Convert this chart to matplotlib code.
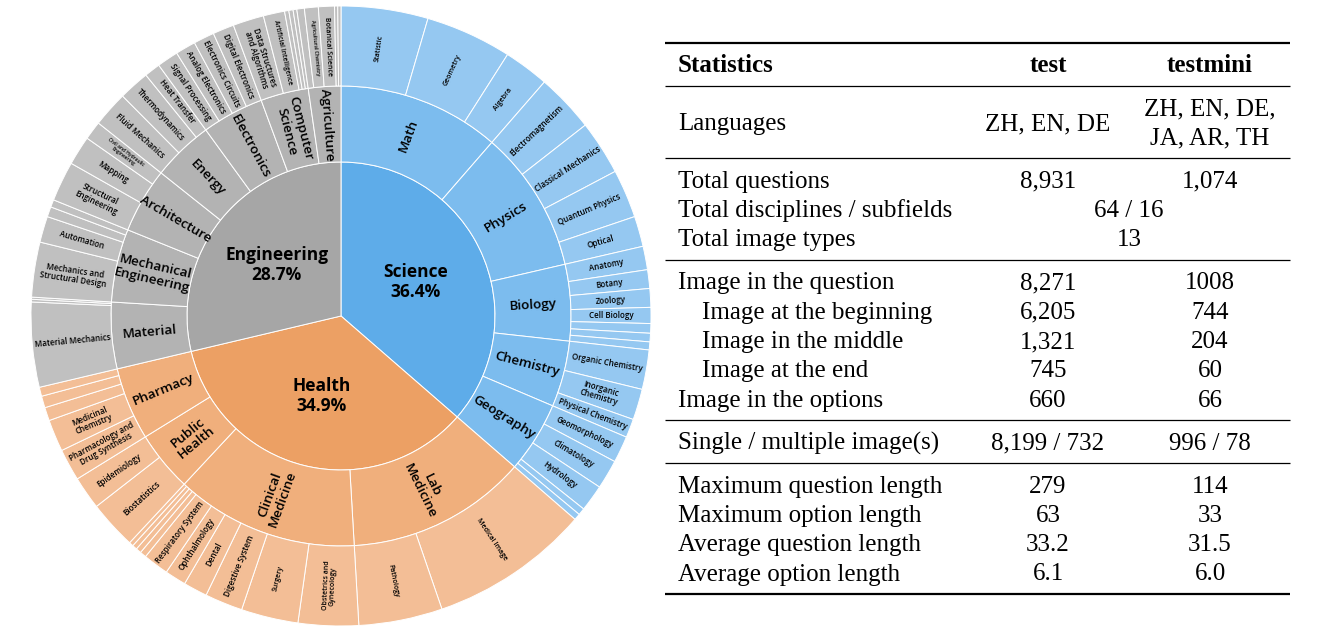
import numpy as np
import matplotlib.pyplot as plt

# ---- sunburst data (clockwise from 12 o'clock) ----
field_names = ['Science', 'Health', 'Engineering']

sub_names = ['Math', 'Physics', 'Biology', 'Chemistry', 'Geography',
             'Lab\nMedicine', 'Clinical\nMedicine', 'Public\nHealth', 'Pharmacy',
             'Material', 'Mechanical\nEngineering', 'Architecture', 'Energy',
             'Electronics', 'Computer\nScience', 'Agriculture']
sub_field = [0, 0, 0, 0, 0, 1, 1, 1, 1, 2, 2, 2, 2, 2, 2, 2]

leaf_names = [
    'Statistic', 'Geometry', 'Algebra',
    'Electromagnetism', 'Classical Mechanics', 'Quantum Physics', 'Optical',
    'Anatomy', 'Botany', 'Zoology', 'Cell Biology', '', '', '',
    'Organic Chemistry', 'Inorganic\nChemistry', 'Physical Chemistry',
    'Geomorphology', 'Climatology', 'Hydrology', '', '',
    'Medical Image', 'Pathology',
    'Obstetrics and\nGynecology', 'Surgery', 'Digestive System', 'Dental',
    'Ophthalmology', 'Respiratory System', '', '', '', '',
    'Biostatistics', 'Epidemiology',
    'Pharmacology and\nDrug Synthesis', 'Medicinal\nChemistry', '', '', '',
    'Material Mechanics', '', '',
    'Mechanics and\nStructural Design', 'Automation', '', '',
    'Structural\nEngineering', 'Mapping', 'Civil and Hydraulic\nEngineering',
    'Fluid Mechanics', 'Thermodynamics', 'Heat Transfer',
    'Signal Processing', 'Analog Electronics', 'Electronics Circuits', 'Digital Electronics',
    'Data Structures\nand Algorithms', 'Artificial Intelligence', '', '', '',
    '', 'Agricultural Chemistry', 'Botanical Science', '', '',
]
leaf_sub = [
    0, 0, 0,
    1, 1, 1, 1,
    2, 2, 2, 2, 2, 2, 2,
    3, 3, 3,
    4, 4, 4, 4, 4,
    5, 5,
    6, 6, 6, 6, 6, 6, 6, 6, 6, 6,
    7, 7,
    8, 8, 8, 8, 8,
    9, 9, 9,
    10, 10, 10, 10,
    11, 11, 11,
    12, 12, 12,
    13, 13, 13, 13,
    14, 14, 14, 14, 14,
    15, 15, 15, 15, 15,
]
leaf_share = [
    16.3, 16.2, 8.5,
    11.0, 10.2, 9.1, 5.7,
    4.4, 3.5, 3.5, 3.0, 1.8, 1.6, 1.5,
    7.4, 5.8, 3.5,
    5.0, 5.5, 5.0, 1.3, 1.2,
    30.0, 15.7,
    11.3, 10.7, 7.1, 4.5, 4.0, 4.8, 1.2, 1.0, 0.9, 0.8,
    9.1, 6.2,
    6.0, 6.0, 2.5, 2.2, 1.7,
    15.9, 0.5, 0.4,
    10.3, 4.9, 1.9, 1.4,
    7.5, 5.5, 3.5,
    6.7, 5.8, 3.0,
    4.0, 3.8, 3.9, 4.0,
    5.8, 4.0, 0.8, 0.8, 0.7,
    1.4, 2.6, 3.0, 0.6, 0.6,
]

# ---- table data ----
row_labels = ['Languages', 'Total questions', 'Total disciplines / subfields',
              'Total image types', 'Image in the question', 'Image at the beginning',
              'Image in the middle', 'Image at the end', 'Image in the options',
              'Single / multiple image(s)', 'Maximum question length',
              'Maximum option length', 'Average question length', 'Average option length']
test_col = ['ZH, EN, DE', '8,931', '64 / 16', '13', '8,271', '6,205', '1,321', '745',
            '660', '8,199 / 732', '279', '63', '33.2', '6.1']
testmini_col = ['ZH, EN, DE,\nJA, AR, TH', '1,074', None, None, '1008', '744', '204',
                '60', '66', '996 / 78', '114', '33', '31.5', '6.0']
row_group = [0, 1, 1, 1, 2, 2, 2, 2, 2, 3, 4, 4, 4, 4]
row_indent = [0, 0, 0, 0, 0, 1, 1, 1, 0, 0, 0, 0, 0, 0]

# ---- styles ----
inner_colors = ['#5EACE9', '#ECA064', '#A6A6A6']
mid_colors = ['#7CBCEE', '#F0AF7C', '#B3B3B3']
outer_colors = ['#95C8F1', '#F3BE96', '#C0C0C0']
small_font = {'Civil and Hydraulic\nEngineering': 3.5, 'Agricultural Chemistry': 3.8,
              'Botanical Science': 5.0, 'Artificial Intelligence': 4.8}
light_labels = ['Statistic', 'Geometry', 'Algebra', 'Medical Image', 'Pathology',
                'Surgery', 'Obstetrics and\nGynecology']

W, H = 1323, 633
fig = plt.figure(figsize=(W / 100, H / 100), dpi=100)
plt.rcParams['font.family'] = ['Open Sans', 'DejaVu Sans']

cx, cy, half = 341, 316, 320
ax = fig.add_axes([(cx - half) / W, (H - cy - half) / H, 2 * half / W, 2 * half / H])

r_in, r_mid, r_out = 154, 230, 310
sub_vals = np.bincount(leaf_sub, weights=leaf_share)
field_vals = np.bincount(sub_field, weights=sub_vals, minlength=3)
leaf_field = [sub_field[s] for s in leaf_sub]

wp = dict(edgecolor='white', linewidth=0.7)
w_in, _ = ax.pie(field_vals, radius=r_in, startangle=90, counterclock=False,
                 colors=inner_colors, wedgeprops=wp)
w_mid, _ = ax.pie(sub_vals, radius=r_mid, startangle=90, counterclock=False,
                  colors=[mid_colors[f] for f in sub_field],
                  wedgeprops=dict(width=r_mid - r_in, **wp))
w_out, _ = ax.pie(leaf_share, radius=r_out, startangle=90, counterclock=False,
                  colors=[outer_colors[f] for f in leaf_field],
                  wedgeprops=dict(width=r_out - r_mid, **wp))
ax.set_xlim(-half, half)
ax.set_ylim(-half, half)
ax.set_aspect('equal')
ax.axis('off')


def radial_rot(t):
    t = (t + 180) % 360 - 180
    if -90 <= t <= 90:
        return t
    return t - 180 if t > 0 else t + 180


total = sum(field_vals)
for w, name, v in zip(w_in, field_names, field_vals):
    m = np.deg2rad((w.theta1 + w.theta2) / 2)
    ax.text(82 * np.cos(m), 82 * np.sin(m), f'{name}\n{100 * v / total:.1f}%',
            ha='center', va='center', fontsize=12.5, fontweight='bold',
            linespacing=1.15)

for w, name in zip(w_mid, sub_names):
    t = (w.theta1 + w.theta2) / 2
    m = np.deg2rad(t)
    ax.text(192 * np.cos(m), 192 * np.sin(m), name, ha='center', va='center',
            rotation=radial_rot(t), rotation_mode='anchor', fontsize=9.7,
            fontweight='semibold', linespacing=1.05, multialignment='center')

for w, name in zip(w_out, leaf_names):
    if not name:
        continue
    t = (w.theta1 + w.theta2) / 2
    m = np.deg2rad(t)
    light = name in light_labels
    ax.text(270 * np.cos(m), 270 * np.sin(m), name, ha='center', va='center',
            rotation=radial_rot(t), rotation_mode='anchor',
            fontsize=small_font.get(name, 5.0 if light else 5.8),
            fontweight='semibold', color='black',
            linespacing=1.0, multialignment='center')

# ---- table ----
tab = fig.add_axes([0, 0, 1, 1])
tab.set_xlim(0, W)
tab.set_ylim(H, 0)
tab.axis('off')
tab.patch.set_alpha(0)

x0, x1 = 665, 1290
x_lab, x_ind, x_test, x_mini, x_merge = 678, 702, 1048, 1210, 1129
pad, pitch, base = 21.5, 29.3, 8
tfont = dict(family=['Liberation Serif', 'DejaVu Serif'], fontsize=18)

y = 43
tab.hlines(y, x0, x1, color='black', lw=1.6)
yc = y + pad
tab.text(x_lab, yc + base, 'Statistics', ha='left', va='baseline', fontweight='bold', **tfont)
tab.text(x_test, yc + base, 'test', ha='center', va='baseline', fontweight='bold', **tfont)
tab.text(x_mini, yc + base, 'testmini', ha='center', va='baseline', fontweight='bold', **tfont)
y = yc + pad
tab.hlines(y, x0, x1, color='black', lw=0.9)


def cell(x, yc, s, ha='center'):
    lines = s.split('\n')
    for k, line in enumerate(lines):
        tab.text(x, yc + base + (k - (len(lines) - 1) / 2) * pitch, line,
                 ha=ha, va='baseline', **tfont)


n = len(row_labels)
prev_yc = None
for i in range(n):
    nl = max(1, (testmini_col[i] or '').count('\n') + 1)
    extra = (nl - 1) * pitch / 2
    if i == 0 or row_group[i] != row_group[i - 1]:
        yc = y + pad + extra
    else:
        yc = prev_yc + pitch
    cell(x_ind if row_indent[i] else x_lab, yc, row_labels[i], ha='left')
    if testmini_col[i] is None:
        cell(x_merge, yc, test_col[i])
    else:
        cell(x_test, yc, test_col[i])
        cell(x_mini, yc, testmini_col[i])
    prev_yc = yc
    if i == n - 1 or row_group[i + 1] != row_group[i]:
        y = yc + pad + extra
        tab.hlines(y, x0, x1, color='black', lw=1.6 if i == n - 1 else 0.9)

fig.savefig('out.png', dpi=100)
